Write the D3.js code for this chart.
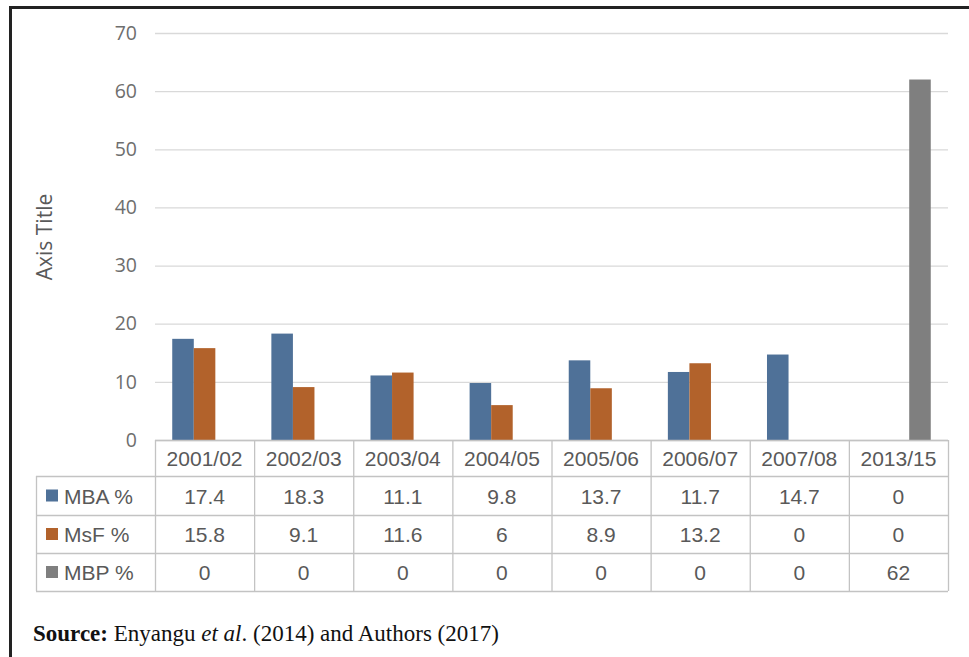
<!DOCTYPE html>
<html>
<head>
<meta charset="utf-8">
<script src="https://cdn.jsdelivr.net/npm/d3@7"></script>
<style>
  body { margin: 0; background: #fff; }
  svg { display: block; }
</style>
</head>
<body>
<div class="chart"></div>
<script>
// data
const categories = ['2001/02', '2002/03', '2003/04', '2004/05', '2005/06', '2006/07', '2007/08', '2013/15'];
const seriesNames = ['MBA %', 'MsF %', 'MBP %'];
const mba = [17.4, 18.3, 11.1, 9.8, 13.7, 11.7, 14.7, 0];
const msf = [15.8, 9.1, 11.6, 6, 8.9, 13.2, 0, 0];
const mbp = [0, 0, 0, 0, 0, 0, 0, 62];
const yTicks = [0, 10, 20, 30, 40, 50, 60, 70];
const colors = ['#4f7198', '#b2622b', '#7f7f7f'];

const seriesValues = [mba, msf, mbp];

const width = 969, height = 657;
const plot = { left: 155, right: 948, top: 33, bottom: 440 };

const svg = d3.select('.chart').append('svg')
  .attr('width', width).attr('height', height);

// frame (top and left edges visible)
svg.append('line').attr('x1', 10).attr('x2', width).attr('y1', 7.5).attr('y2', 7.5)
  .attr('stroke', '#222').attr('stroke-width', 3);
svg.append('line').attr('x1', 10.5).attr('x2', 10.5).attr('y1', 6).attr('y2', height)
  .attr('stroke', '#222').attr('stroke-width', 3);

const xScale = d3.scaleBand().domain(categories).range([plot.left, plot.right]);
const xInner = d3.scaleBand().domain(seriesNames).range([0, xScale.bandwidth()])
  .paddingInner(0).paddingOuter(0.8);
const yScale = d3.scaleLinear().domain([0, 70]).range([plot.bottom, plot.top]);

// gridlines + tick labels
const yAxis = d3.axisLeft(yScale).tickValues(yTicks)
  .tickSize(-(plot.right - plot.left)).tickPadding(18);
const yAxisDraw = svg.append('g').attr('class', 'yaxis')
  .attr('transform', `translate(${plot.left},0)`).call(yAxis);
yAxisDraw.select('.domain').remove();
yAxisDraw.selectAll('line').attr('stroke', '#d9d9d9').attr('stroke-width', 1.3);
yAxisDraw.selectAll('text')
  .attr('fill', '#6e6e6e')
  .style('font-family', '"Open Sans", sans-serif')
  .style('font-size', '19.5px');

// axis title
svg.append('text')
  .attr('transform', `translate(52,237) rotate(-90)`)
  .attr('text-anchor', 'middle')
  .attr('fill', '#595959')
  .style('font-family', '"Open Sans", sans-serif')
  .style('font-size', '21px')
  .text('Axis Title');

// bars
const barData = [];
seriesNames.forEach((s, si) => {
  categories.forEach((c, ci) => {
    barData.push({ series: s, cat: c, value: seriesValues[si][ci], color: colors[si] });
  });
});
svg.selectAll('.bar')
  .data(barData.filter(d => d.value > 0))
  .enter().append('rect')
  .attr('class', 'bar')
  .attr('x', d => xScale(d.cat) + xInner(d.series))
  .attr('y', d => yScale(d.value))
  .attr('width', xInner.bandwidth())
  .attr('height', d => plot.bottom - yScale(d.value))
  .attr('fill', d => d.color);

// data table
const tableLeft = 36;
const rowTops = [440, 476, 515, 553, 591];
const lineColor = '#c3c3c3';
const tableFont = '"Liberation Sans", Arial, sans-serif';
const tableSize = '21px';
const tg = svg.append('g').attr('class', 'table');

// horizontal lines
rowTops.forEach((y, i) => {
  tg.append('line')
    .attr('x1', i === 0 ? plot.left : tableLeft).attr('x2', plot.right)
    .attr('y1', y + 0.5).attr('y2', y + 0.5)
    .attr('stroke', lineColor).attr('stroke-width', 1.3);
});
// vertical lines
tg.append('line').attr('x1', tableLeft + 0.5).attr('x2', tableLeft + 0.5)
  .attr('y1', rowTops[1]).attr('y2', rowTops[4]).attr('stroke', lineColor).attr('stroke-width', 1.3);
categories.concat(['end']).forEach(c => {
  const x = c === 'end' ? plot.right : xScale(c);
  tg.append('line').attr('x1', x + 0.5).attr('x2', x + 0.5)
    .attr('y1', rowTops[0]).attr('y2', rowTops[4]).attr('stroke', lineColor).attr('stroke-width', 1.3);
});

// header labels
tg.selectAll('.head').data(categories).enter().append('text')
  .attr('class', 'head')
  .attr('x', d => xScale(d) + xScale.bandwidth() / 2)
  .attr('y', (rowTops[0] + rowTops[1]) / 2 + 8)
  .attr('text-anchor', 'middle')
  .attr('fill', '#595959')
  .style('font-family', tableFont).style('font-size', tableSize)
  .text(d => d);

// series rows
seriesNames.forEach((s, si) => {
  const yMid = (rowTops[si + 1] + rowTops[si + 2]) / 2;
  tg.append('rect').attr('x', 46).attr('y', yMid - 6).attr('width', 12).attr('height', 12)
    .attr('fill', colors[si]);
  tg.append('text').attr('x', 64).attr('y', yMid + 8)
    .attr('fill', '#595959')
    .style('font-family', tableFont).style('font-size', tableSize)
    .text(s);
  tg.selectAll('.v' + si).data(seriesValues[si]).enter().append('text')
    .attr('x', (d, i) => xScale(categories[i]) + xScale.bandwidth() / 2)
    .attr('y', yMid + 8)
    .attr('text-anchor', 'middle')
    .attr('fill', '#595959')
    .style('font-family', tableFont).style('font-size', tableSize)
    .text(d => d);
});

// source note
const src = svg.append('text').attr('x', 33).attr('y', 641)
  .attr('fill', '#111')
  .style('font-family', '"Liberation Serif", "Times New Roman", serif')
  .style('font-size', '23px');
src.append('tspan').style('font-weight', 'bold').text('Source:');
src.append('tspan').text(' Enyangu ');
src.append('tspan').style('font-style', 'italic').text('et al');
src.append('tspan').text('. (2014) and Authors (2017)');
</script>
</body>
</html>
